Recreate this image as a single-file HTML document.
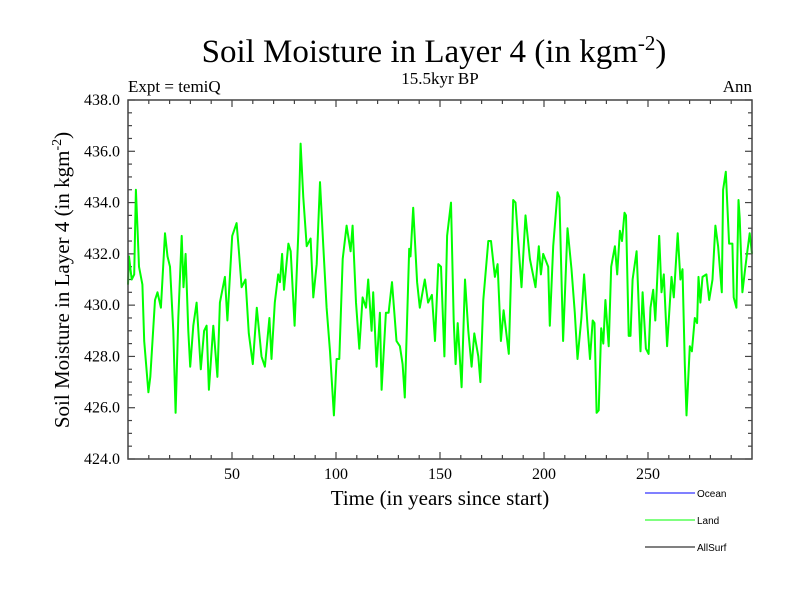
<!DOCTYPE html>
<html><head><meta charset="utf-8"><style>
body{margin:0;background:#fff;width:800px;height:600px;overflow:hidden}
svg text{font-family:"Liberation Serif",serif}
</style></head><body>
<svg id="chart" width="800" height="600" viewBox="0 0 800 600" xmlns="http://www.w3.org/2000/svg">
<text x="434" y="62" font-size="33" text-anchor="middle">Soil Moisture in Layer 4 (in kgm<tspan dy="-12" font-size="21">-2</tspan><tspan dy="12">)</tspan></text>
<text x="128" y="92" font-size="17">Expt = temiQ</text>
<text x="440" y="84" font-size="17" text-anchor="middle">15.5kyr BP</text>
<text x="752" y="92" font-size="17" text-anchor="end">Ann</text>
<text transform="translate(69,280) rotate(-90)" font-size="21" text-anchor="middle">Soil Moisture in Layer 4 (in kgm<tspan dy="-8" font-size="14">-2</tspan><tspan dy="8">)</tspan></text>
<text x="440" y="505" font-size="21" text-anchor="middle">Time (in years since start)</text>
<g id="ticks"></g>
<g id="series"></g>
<rect x="128" y="100" width="624" height="359" fill="none" stroke="#444" stroke-width="1.5"/>
<g font-family="Liberation Sans,sans-serif" font-size="10">
<line x1="645" y1="493" x2="695" y2="493" stroke="#0000ff"/>
<text x="697" y="497" style="font-family:'Liberation Sans',sans-serif">Ocean</text>
<line x1="645" y1="520" x2="695" y2="520" stroke="#00ff00"/>
<text x="697" y="524" style="font-family:'Liberation Sans',sans-serif">Land</text>
<line x1="645" y1="547" x2="695" y2="547" stroke="#000"/>
<text x="697" y="551" style="font-family:'Liberation Sans',sans-serif">AllSurf</text>
</g>
</svg>
<script>
const yTicks=[424,426,428,430,432,434,436,438];
const xTicks=[50,100,150,200,250];
const years=[0,0.5,1.8,3,3.8,4.6,5.3,6.9,7.8,9.8,10.7,13,14.2,15.8,17.8,19,20.2,21.8,22.9,24.2,25.8,26.7,27.7,29,29.9,31.4,33,35,36.6,37.8,38.9,41,43,44.2,46.6,47.8,50.1,52.2,53.3,54.6,56.5,58.1,60,61.9,64.2,65.8,68,69,70.6,72.2,
73.1,74.1,75,77.1,78.2,80.1,81.9,83,84.3,85.9,87.8,89.1,90.7,92.3,93.9,95.5,97.1,99,100.3,101.6,103.2,105.1,107,108,109.6,111.2,112.8,114.4,115.5,117.1,117.9,119.5,121.1,121.9,124,125.3,126.9,129.1,130.7,132,133.1,135.2,135.8,137.1,139,140.3,142.7,144.3,146.1,
147.6,149.2,150.5,152.1,153.4,155.3,156.6,157.5,158.5,160.4,162,163.6,165.2,166.5,168.4,169.4,170.8,173.2,174.5,176.4,177.7,179.3,180.6,183.1,185.2,186.3,187.6,189.2,191.1,193.2,195.9,197.5,198.5,199.6,202,202.8,204.4,206.5,207.4,209.2,211.3,213.2,214.8,216.1,218,219.3,220.9,
222.1,223.4,224.3,225.3,226.3,227.5,228.5,229.5,231.1,232.3,234.1,235.2,236.5,237.5,238.7,239.4,240.7,241.6,242.6,244.5,245.8,246.4,247.4,249,250.3,251.2,252.5,253.5,255.4,256.5,257.6,259.2,261.3,262.4,264.3,265.6,266.6,267.7,268.5,270.1,271.1,272.5,273.6,274.3,275.2,276.2,278.1,279.4,281,282.4,283.7,285.5,286.1,287.4,289,290.6,291.2,292.5,293.5,294.1,295.4,296.7,297.6,298.9,300];
const land=[430.8,431.9,431,431.2,434.5,432.9,431.5,430.8,428.6,426.6,427.2,430.2,430.5,429.9,432.8,431.9,431.5,429,425.8,429.5,432.7,430.7,432,429,427.6,429.2,430.1,427.5,429,429.2,426.7,429.2,427.2,430.1,431.1,429.4,432.7,433.2,432.1,430.7,431,428.9,427.7,429.9,428,427.6,429.5,427.9,430.1,431.2,
430.9,432,430.6,432.4,432.1,429.2,432.9,436.3,434.2,432.3,432.6,430.3,431.6,434.8,432.3,429.9,428.2,425.7,427.9,427.9,431.8,433.1,432.1,433.1,430.1,428.3,430.3,429.9,431,429,430.5,427.6,429.7,426.7,429.7,429.7,430.9,428.6,428.4,427.7,426.4,432.2,431.9,433.8,430.9,429.9,431,430.1,430.4,
428.6,431.6,431.5,428,432.7,434,429.4,427.7,429.3,426.8,431,429,427.6,428.9,428,427,430.2,432.5,432.5,431.1,431.6,428.6,429.8,428.1,434.1,434,432.5,430.7,433.5,431.8,430.7,432.3,431.2,432,431.5,429.2,432.3,434.4,434.2,428.6,433,431.4,429.7,427.9,429.5,431.2,429.2,
427.9,429.4,429.3,425.8,425.9,429.1,428.5,430.2,428.4,431.5,432.3,431.2,432.9,432.5,433.6,433.5,428.8,428.8,431,432.1,429.4,428.2,430.5,428.3,428.1,429.9,430.6,429.4,432.7,430.5,431.2,428.4,431.1,430.3,432.8,431,431.4,427.7,425.7,428.4,428.2,429.5,429.3,431.1,430.1,431.1,431.2,430.2,431,433.1,432.3,430.5,434.5,435.2,432.4,432.4,430.3,429.9,434.1,433.4,430.5,431.4,432,432.8,432];
const X0=128,X1=752,Y0=459,Y1=100;
const xs=v=>X0+(v-0)/(300-0)*(X1-X0);
const ys=v=>Y0-(v-424)/(438-424)*(Y0-Y1);
const NS="http://www.w3.org/2000/svg";
const tg=document.getElementById('ticks');
function ln(x1,y1,x2,y2){const l=document.createElementNS(NS,'line');l.setAttribute('x1',x1);l.setAttribute('y1',y1);l.setAttribute('x2',x2);l.setAttribute('y2',y2);l.setAttribute('stroke','#444');l.setAttribute('stroke-width','1.2');


tg.appendChild(l);}
for(let v=424;v<=438;v+=0.5){const y=ys(v);const L=(v%2===0)?7:4;ln(X0,y,X0+L,y);ln(X1,y,X1-L,y);}
for(let v=10;v<300;v+=10){const x=xs(v);const L=(v%50===0)?7:4;ln(x,Y0,x,Y0-L);ln(x,Y1,x,Y1+L);}
yTicks.forEach(v=>{const t=document.createElementNS(NS,'text');t.setAttribute('x',X0-8);t.setAttribute('y',ys(v)+5);t.setAttribute('text-anchor','end');t.setAttribute('font-size','16');t.textContent=v.toFixed(1);


tg.appendChild(t);});
xTicks.forEach(v=>{const t=document.createElementNS(NS,'text');t.setAttribute('x',xs(v));t.setAttribute('y',Y0+20);t.setAttribute('text-anchor','middle');t.setAttribute('font-size','16');t.textContent=v;


tg.appendChild(t);});
const p=document.createElementNS(NS,'polyline');
p.setAttribute('points',years.map((y,i)=>xs(y).toFixed(1)+','+ys(land[i]).toFixed(1)).join(' '));
p.setAttribute('fill','none');p.setAttribute('stroke','#00ff00');p.setAttribute('stroke-width','2');p.setAttribute('stroke-linejoin','round');


document.getElementById('series').appendChild(p);
</script>
</body></html>
